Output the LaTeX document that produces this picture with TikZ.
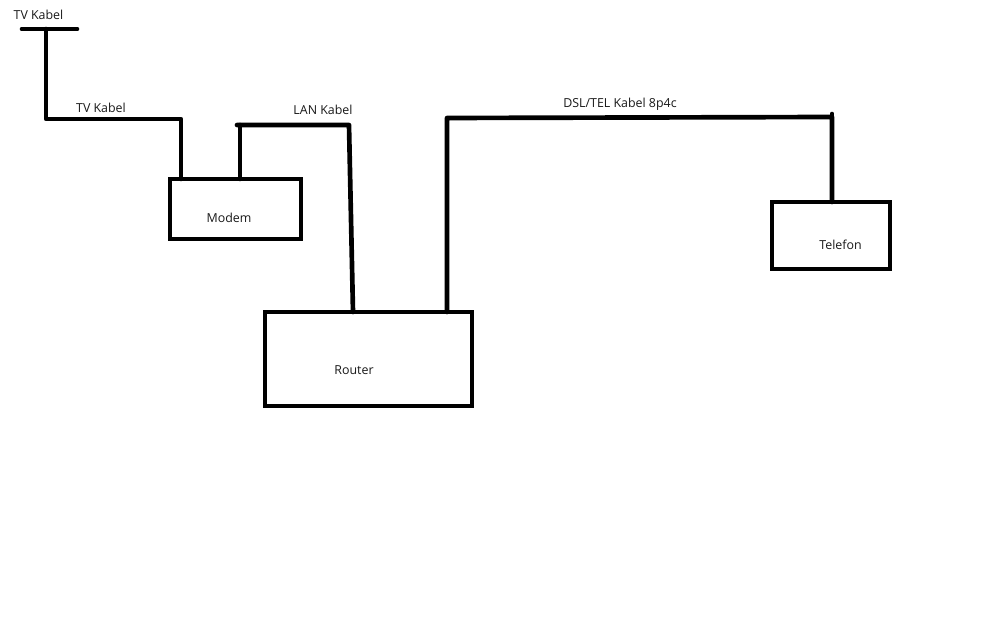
\documentclass[tikz,border=0pt]{standalone}
\usepackage{fontspec}
\setmainfont{Open Sans}
\begin{document}
\begin{tikzpicture}[x=0.75pt,y=-0.75pt,
  wire/.style={line width=3.5pt,line cap=round,line join=round},
  device/.style={draw,line width=3.5pt,inner sep=0pt,outer sep=0pt,anchor=north west},
  txt/.style={font=\fontsize{9.3}{11}\selectfont,text=black!90,inner sep=0pt,anchor=center}]
\useasboundingbox[fill=white] (0,0) rectangle (1008,630);
% boxes
\node[device,minimum width=98.25pt,minimum height=45pt] (modem) at (170,179) {};
\node[device,minimum width=155.25pt,minimum height=70.5pt] (router) at (265,312) {};
\node[device,minimum width=88.5pt,minimum height=50.25pt] (telefon) at (772,202) {};
% texts
\node[txt] (modemtxt) at (229,218) {Modem};
\node[txt] (routertxt) at (354,370) {Router};
\node[txt] (telefontxt) at (840.5,245) {Telefon};
\node[txt] (tvtop) at (38.5,15) {TV Kabel};
\node[txt] (tvmid) at (101,108) {TV Kabel};
\node[txt] (lanlbl) at (323,110) {LAN Kabel};
\node[txt] (dsllbl) at (620,104) {DSL/TEL Kabel 8p4c};
% antenna
\coordinate (antL) at (22,29);
\coordinate (antR) at (77,29);
\coordinate (antM) at (46,29);
\coordinate (tvcorner) at (46,119);
\coordinate (tvdrop) at (181,119);
\draw[wire] (antL) -- (antR);
\draw[wire] (antM) -- (tvcorner) -- (tvdrop) -- (tvdrop |- modem.north);
% LAN
\coordinate (lanL) at (237,125);
\coordinate (lanR) at (349,125);
\coordinate (lanup) at (240,125);
\draw[wire] (lanup |- modem.north) -- (lanup);
\coordinate (rtin) at (353,312);
\draw[wire] (lanL) -- (lanR) -- (rtin |- router.north);
% DSL
\coordinate (dslL) at (447,118);
\coordinate (dslR) at (832,117);
\draw[wire] (dslL |- router.north) -- (dslL) -- (dslR) -- (dslR |- telefon.north);
\draw[wire] (832,114) -- (dslR);
\end{tikzpicture}
\end{document}
